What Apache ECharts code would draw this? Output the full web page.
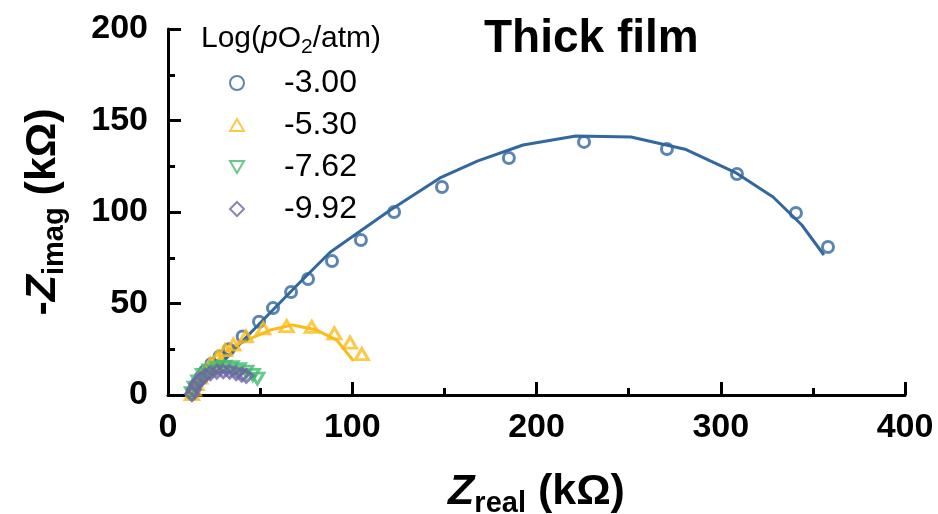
<!DOCTYPE html>
<html>
<head>
<meta charset="utf-8">
<script src="https://cdn.jsdelivr.net/npm/echarts@6/dist/echarts.min.js"></script>
<style>
  html, body { margin: 0; padding: 0; background: #fff; }
  #chart { width: 938px; height: 514px; }
</style>
</head>
<body>
<div id="chart"></div>
<script>
// Nyquist data, thick film, at four oxygen partial pressures (kΩ)
const seriesNames = ['-3.00', '-5.30', '-7.62', '-9.92'];
const colors = ['#33679f', '#fbbb1a', '#3fbd6c', '#6d67a3'];

// measured points [Z_real, -Z_imag]
const meas_300 = [[13,0.5],[14,3],[15.5,6],[17.5,9.5],[20,13],[23.5,17],[28,21],[33,25],[40.5,32],
  [49.4,40],[57,47.5],[66.8,56.3],[76,63.4],[89,73.2],[104.7,84.7],[122.7,100],[148.7,113.7],
  [185,129.5],[225.8,138.3],[270.8,134.4],[308.8,120.8],[340.8,99.5],[358.2,80.9]];
const meas_530 = [[13,0.5],[14,3],[15.5,6],[17.5,9.5],[20,13],[23,17],[27,21],[31,24.5],[35.5,27.5],
  [42.3,32],[51.7,36.4],[64.4,37.7],[78,37.2],[90.3,33.7],[98.8,28.6],[105.2,22.4]];
const meas_762 = [[13,1],[14.5,4],[16.5,7.5],[19,11],[22.5,13.5],[26.5,15],[30.5,15.5],[34.5,15.2],
  [38.5,14.2],[42.5,12.8],[46,11],[48.5,9]];
const meas_992 = [[13,0.5],[14,3],[15.5,6],[17.5,8.5],[20,10.5],[23,12],[26.5,12.8],[30,13],
  [33.5,12.8],[37,12],[40,11.2],[42.5,10.5]];

// equivalent-circuit fits
const fit_300 = [[13,0],[25,13],[40,29],[51.6,41],[70,60],[88,78],[105,90],[120.5,101],[147.6,118.6],
  [168.2,127.9],[192.7,136.6],[221.3,141.5],[251.3,141],[280.6,134.3],[308.6,121.2],[328.4,108.2],
  [344,92.9],[356,76.5]];
const fit_530 = [[13,0],[18,8],[25,17],[32,24],[39,28.4],[55.4,35.5],[67.8,38.3],[80.7,35.5],
  [91.6,30],[100.6,18.7]];
const fit_762 = [[13,0],[16,6],[20,11],[25,14.2],[30,15.5],[36,15],[42,13],[48,10]];
const fit_992 = [[13,0],[16,5],[20,9.5],[25,12],[30,12.8],[35,12.3],[40,11]];

const xTicks = { min: 0, max: 400, interval: 100 };
const yTicks = { min: 0, max: 200, interval: 50 };

const measured = [meas_300, meas_530, meas_762, meas_992];
const fits = [fit_300, fit_530, fit_762, fit_992];
// hollow markers: circle, up triangle, down triangle, diamond
const symbols = [
  'circle',
  'path://M5,0 L10,8.66 L0,8.66 Z',
  'path://M0,0 L10,0 L5,8.66 Z',
  'diamond'
];
const symbolSizes = [11, [13, 11], [13, 11], 13];

const chart = echarts.init(document.getElementById('chart'), null, { renderer: 'canvas' });

const series = [];
fits.forEach((d, i) => {
  series.push({
    name: 'fit' + i,
    type: 'line',
    data: d,
    symbol: 'none',
    smooth: false,
    lineStyle: { color: colors[i], width: 3 },
    z: 2,
    silent: true
  });
});
measured.forEach((d, i) => {
  series.push({
    name: seriesNames[i],
    type: 'scatter',
    data: d,
    symbol: symbols[i],
    symbolSize: symbolSizes[i],
    itemStyle: { color: 'rgba(255,255,255,0)', borderColor: colors[i], borderWidth: 3 },
    z: 3
  });
});

const tickFont = { fontFamily: 'Liberation Sans', fontWeight: 'bold', fontSize: 34, color: '#000' };
const nameRich = {
  z: { fontFamily: 'Liberation Sans', fontWeight: 'bold', fontStyle: 'italic', fontSize: 43, color: '#000', lineHeight: 46, verticalAlign: 'middle' },
  s: { fontFamily: 'Liberation Sans', fontWeight: 'bold', fontSize: 29, color: '#000', lineHeight: 28, padding: [24, 0, 0, 0], verticalAlign: 'middle' },
  b: { fontFamily: 'Liberation Sans', fontWeight: 'bold', fontSize: 43, color: '#000', lineHeight: 46, verticalAlign: 'middle' }
};

chart.setOption({
  backgroundColor: '#fff',
  animation: false,
  title: [
    {
      text: 'Thick film',
      left: 479, top: 11,
      textStyle: { fontFamily: 'Liberation Sans', fontWeight: 'bold', fontSize: 46, color: '#000' }
    },
    {
      text: '{a|Log(}{i|p}{a|O}{s|2}{a|/atm)}',
      left: 196, top: 17,
      textStyle: {
        fontWeight: 'normal',
        rich: {
          a: { fontFamily: 'Liberation Sans', fontWeight: 'normal', fontSize: 30, color: '#000', lineHeight: 34, verticalAlign: 'middle' },
          i: { fontFamily: 'Liberation Sans', fontWeight: 'normal', fontStyle: 'italic', fontSize: 30, color: '#000', lineHeight: 34, verticalAlign: 'middle' },
          s: { fontFamily: 'Liberation Sans', fontWeight: 'normal', fontSize: 21, color: '#000', lineHeight: 21, padding: [17, 0, 0, 0], verticalAlign: 'middle' }
        }
      }
    }
  ],
  legend: {
    data: seriesNames,
    orient: 'vertical',
    left: 224, top: 62,
    itemWidth: 14, itemHeight: 14,
    itemGap: 10,
    textStyle: { fontFamily: 'Liberation Sans', fontSize: 32, color: '#000', lineHeight: 31, padding: [0, 0, 0, 35] }
  },
  grid: { left: 168, right: 33, top: 29, bottom: 119, containLabel: false, outerBoundsMode: 'none' },
  xAxis: {
    type: 'value',
    min: xTicks.min, max: xTicks.max, interval: xTicks.interval,
    name: '{z|Z}{s|real}{b| (kΩ)}',
    nameLocation: 'middle',
    nameGap: 74,
    nameTextStyle: { rich: nameRich },
    axisLine: { show: true, onZero: false, lineStyle: { color: '#000', width: 3 } },
    axisTick: { show: true, inside: true, length: 13, lineStyle: { color: '#000', width: 3 } },
    minorTick: { show: true, splitNumber: 2, length: 7, lineStyle: { color: '#000', width: 3 } },
    axisLabel: Object.assign({ margin: 16 }, tickFont),
    splitLine: { show: false }
  },
  yAxis: {
    type: 'value',
    min: yTicks.min, max: yTicks.max, interval: yTicks.interval,
    name: '{b|-}{z|Z}{s|imag}{b| (kΩ)}',
    nameLocation: 'middle',
    nameGap: 102,
    nameTextStyle: { rich: nameRich },
    axisLine: { show: true, onZero: false, lineStyle: { color: '#000', width: 3 } },
    axisTick: { show: true, inside: true, length: 13, lineStyle: { color: '#000', width: 3 } },
    minorTick: { show: true, splitNumber: 2, length: 7, lineStyle: { color: '#000', width: 3 } },
    axisLabel: Object.assign({ margin: 20 }, tickFont),
    splitLine: { show: false }
  },
  series: series
});
</script>
</body>
</html>
